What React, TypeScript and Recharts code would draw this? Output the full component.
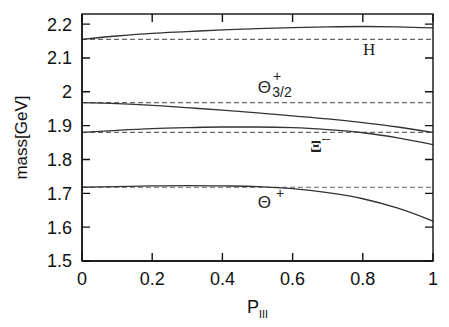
import {
  LineChart,
  Line,
  XAxis,
  YAxis,
  ReferenceLine,
  ReferenceDot,
} from "recharts";

const pIII = [0, 0.1, 0.2, 0.3, 0.4, 0.5, 0.6, 0.7, 0.8, 0.9, 1];
const hMass = [2.155, 2.165, 2.173, 2.178, 2.183, 2.187, 2.19, 2.192, 2.193, 2.192, 2.189];
const theta32Mass = [1.968, 1.965, 1.96, 1.953, 1.946, 1.938, 1.929, 1.92, 1.909, 1.896, 1.88];
const xiMass = [1.88, 1.886, 1.891, 1.894, 1.896, 1.896, 1.894, 1.888, 1.879, 1.864, 1.844];
const thetaMass = [1.718, 1.72, 1.722, 1.723, 1.722, 1.72, 1.714, 1.702, 1.684, 1.656, 1.618];

// masses at P_III = 0 (dashed reference levels)
const baseLevels = [2.155, 1.968, 1.88, 1.718];

const xTicks = [0, 0.2, 0.4, 0.6, 0.8, 1];
const yTicks = [1.5, 1.6, 1.7, 1.8, 1.9, 2, 2.1, 2.2];
const xDomain = [0, 1];
const yDomain = [1.5, 2.23];

const data = pIII.map((p, i) => ({
  p,
  h: hMass[i],
  t32: theta32Mass[i],
  xi: xiMass[i],
  tp: thetaMass[i],
}));

const W = 449;
const H = 327;
const M = { top: 14, right: 16, bottom: 0, left: 0 };
const Y_AXIS_W = 82;
const X_AXIS_H = 66;
const PLOT_X = M.left + Y_AXIS_W;
const PLOT_Y = M.top;
const PLOT_W = W - M.left - M.right - Y_AXIS_W;
const PLOT_H = H - M.top - M.bottom - X_AXIS_H;

const INK = "#111";
const SANS = "'Liberation Sans', Arial, Helvetica, sans-serif";
const SERIF = "'Liberation Serif', 'Times New Roman', serif";
const TICK = 8;

const px = (v: number) => PLOT_X + ((v - xDomain[0]) / (xDomain[1] - xDomain[0])) * PLOT_W;
const py = (v: number) => PLOT_Y + PLOT_H - ((v - yDomain[0]) / (yDomain[1] - yDomain[0])) * PLOT_H;

function LeftTick({ x, y, payload }: any) {
  return (
    <text x={x - 10} y={y} dy="0.36em" textAnchor="end" fontSize={18} fontFamily={SANS} fill={INK}>
      {payload.value}
    </text>
  );
}

function BottomTick({ x, y, payload }: any) {
  return (
    <text x={x} y={y + 24} textAnchor="middle" fontSize={18} fontFamily={SANS} fill={INK}>
      {payload.value}
    </text>
  );
}

function yTitle(props: any) {
  const vb = props.viewBox || { x: 0, y: M.top, width: Y_AXIS_W, height: PLOT_H };
  const cx = vb.x + 21;
  const cy = vb.y + vb.height / 2;
  return (
    <text
      x={cx}
      y={cy}
      transform={`rotate(-90 ${cx} ${cy})`}
      textAnchor="middle"
      dy="0.36em"
      fontSize={17}
      fontFamily={SANS}
      fill={INK}
    >
      mass[GeV]
    </text>
  );
}

function xTitle(props: any) {
  const vb = props.viewBox || { x: PLOT_X, y: PLOT_Y + PLOT_H, width: PLOT_W, height: X_AXIS_H };
  return (
    <text x={vb.x + vb.width / 2} y={vb.y + 52} textAnchor="middle" fontFamily={SANS} fill={INK}>
      <tspan fontSize={18}>P</tspan>
      <tspan fontSize={11} dy={5}>III</tspan>
    </text>
  );
}

const tag = (kind: string) => (props: any) => {
  const { cx, cy } = props;
  if (kind === "H") {
    return (
      <text x={cx} y={cy} textAnchor="middle" fontSize={17} fontFamily={SERIF} fill="#222">
        H
      </text>
    );
  }
  if (kind === "t32") {
    return (
      <text x={cx} y={cy} fontFamily={SANS} fill="#222">
        <tspan fontSize={17}>Θ</tspan>
        <tspan fontSize={14} dx={2} dy={-12}>+</tspan>
        <tspan fontSize={14} dx={-9} dy={16}>3/2</tspan>
      </text>
    );
  }
  if (kind === "xi") {
    return (
      <text x={cx} y={cy} fontFamily={SERIF} fill="#222">
        <tspan fontSize={17} fontWeight="bold">Ξ</tspan>
        <tspan fontSize={13} dy={-9}>--</tspan>
      </text>
    );
  }
  return (
    <text x={cx} y={cy} fontFamily={SANS} fill="#222">
      <tspan fontSize={17}>Θ</tspan>
      <tspan fontSize={14} dx={5} dy={-10} fill="#222">+</tspan>
    </text>
  );
};

// gnuplot-style frame with inward, mirrored ticks, laid over the chart
function Frame() {
  const d: string[] = [];
  yTicks.forEach((v) => {
    const y = py(v);
    d.push(`M${PLOT_X},${y}h${TICK}`);
    d.push(`M${PLOT_X + PLOT_W},${y}h${-TICK}`);
  });
  xTicks.forEach((v) => {
    const x = px(v);
    d.push(`M${x},${PLOT_Y + PLOT_H}v${-TICK}`);
    d.push(`M${x},${PLOT_Y}v${TICK}`);
  });
  return (
    <svg
      width={W}
      height={H}
      style={{ position: "absolute", left: 0, top: 0, pointerEvents: "none" }}
    >
      <rect x={PLOT_X} y={PLOT_Y} width={PLOT_W} height={PLOT_H} fill="none" stroke={INK} strokeWidth={1.4} />
      <path d={d.join("")} stroke={INK} strokeWidth={1.4} fill="none" />
    </svg>
  );
}

export default function App() {
  return (
    <div style={{ position: "absolute", left: 0, top: 0, width: W, height: H, background: "#fff" }}>
      <LineChart width={W} height={H} data={data} margin={M}>
        <XAxis
          dataKey="p"
          type="number"
          domain={xDomain}
          ticks={xTicks}
          height={X_AXIS_H}
          stroke={INK}
          strokeWidth={1.4}
          tickLine={false}
          tickSize={0}
          tickMargin={0}
          tick={<BottomTick />}
          label={{ content: xTitle }}
        />
        <YAxis
          type="number"
          domain={yDomain}
          allowDataOverflow
          ticks={yTicks}
          width={Y_AXIS_W}
          stroke={INK}
          strokeWidth={1.4}
          tickLine={false}
          tickSize={0}
          tickMargin={0}
          tick={<LeftTick />}
          label={{ content: yTitle }}
        />
        {baseLevels.map((v) => (
          <ReferenceLine key={v} y={v} stroke="#666" strokeWidth={1.2} strokeDasharray="5 3" />
        ))}
        <Line dataKey="h" type="monotone" stroke="#333" strokeWidth={1.3} dot={false} isAnimationActive={false} />
        <Line dataKey="t32" type="monotone" stroke="#333" strokeWidth={1.3} dot={false} isAnimationActive={false} />
        <Line dataKey="xi" type="monotone" stroke="#333" strokeWidth={1.3} dot={false} isAnimationActive={false} />
        <Line dataKey="tp" type="monotone" stroke="#333" strokeWidth={1.3} dot={false} isAnimationActive={false} />
        <ReferenceDot x={0.818} y={2.109} r={0} shape={tag("H")} />
        <ReferenceDot x={0.501} y={1.997} r={0} shape={tag("t32")} />
        <ReferenceDot x={0.65} y={1.822} r={0} shape={tag("xi")} />
        <ReferenceDot x={0.501} y={1.656} r={0} shape={tag("tp")} />
      </LineChart>
      <Frame />
    </div>
  );
}
